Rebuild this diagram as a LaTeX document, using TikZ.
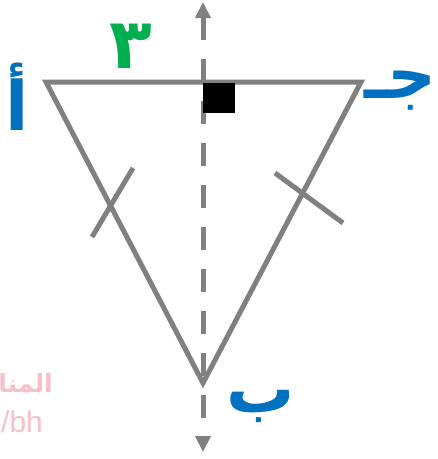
\documentclass[tikz,border=0pt]{standalone}
\usepackage{fontspec}
\newfontfamily\arabicfont[Script=Arabic]{DejaVu Sans}
\newfontfamily\wmfont{Liberation Sans}
\TeXXeTstate=1
\usetikzlibrary{arrows.meta}
\definecolor{linegray}{RGB}{128,128,128}
\definecolor{lblue}{RGB}{0,112,192}
\definecolor{lgreen}{RGB}{0,176,80}
\definecolor{wmpink}{RGB}{246,192,202}
\begin{document}
\begin{tikzpicture}[x=1pt,y=-1pt,
  side/.style={draw=linegray,line width=5pt,line join=miter},
  tickmark/.style={draw=linegray,line width=5pt},
  axisline/.style={draw=linegray,line width=5pt,dash pattern=on 23pt off 19pt,
     {Triangle[length=16pt,width=15pt]}-{Triangle[length=16pt,width=15pt]}},
  vlabel/.style={text=lblue,font=\arabicfont\bfseries\fontsize{68}{74}\selectfont,inner sep=0pt},
  numlabel/.style={text=lgreen,font=\arabicfont\bfseries\fontsize{70}{76}\selectfont,inner sep=0pt},
  wmark/.style={text=wmpink,inner sep=0pt}]
\useasboundingbox (0,0) rectangle (438,459);
% watermark
\node[wmark,font=\arabicfont\bfseries\fontsize{25}{28}\selectfont,anchor=base east] (wm1) at (53,392) {\beginR المنا\endR};
\node[wmark,font=\wmfont\fontsize{30}{32}\selectfont,anchor=base west] (wm2) at (1,432) {/bh};
% vertices
\coordinate (A) at (46,82);
\coordinate (J) at (361,82);
\coordinate (B) at (203,383);
% axis
\coordinate (top) at (203,2);
\coordinate (bot) at (203,452);
\draw[axisline] (top) -- (bot);
% triangle
\draw[side] (A) -- (J) -- (B) -- cycle;
% ticks
\coordinate (t1a) at (92,237);
\coordinate (t1b) at (133,168);
\coordinate (t2a) at (275,173);
\coordinate (t2b) at (343,223);
\draw[tickmark] (t1a) -- (t1b);
\draw[tickmark] (t2a) -- (t2b);
% right angle square
\node[fill=black,minimum width=32pt,minimum height=30pt,inner sep=0pt,anchor=north west] (sq) at (203,83) {};
% labels
\node[vlabel] (la) at (17,97) {\beginR أ\endR};
\node[vlabel,anchor=east] (lj) at (437,91) {\beginR جـ\endR};
\node[vlabel] (lb) at (261,406) {\beginR ب\endR};
\node[numlabel] (l3) at (131,46) {\beginR ٣\endR};
\end{tikzpicture}
\end{document}
